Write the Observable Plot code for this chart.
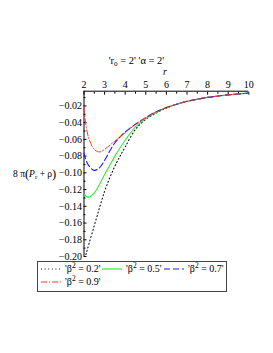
<!DOCTYPE html>
<html>
<head>
<meta charset="utf-8">
<script src="https://cdn.jsdelivr.net/npm/d3@7"></script>
<script src="https://cdn.jsdelivr.net/npm/@observablehq/plot@0.6"></script>
<style>
  html, body { margin: 0; padding: 0; background: #fff; }
  #wrap { position: relative; width: 273px; height: 353px; overflow: hidden; font-family: "Liberation Serif", "DejaVu Serif", serif; color: #000; }
  #chart { position: absolute; left: 0; top: 0; }
  #chart svg text { font-family: "Liberation Serif", serif !important; }
  .title { position: absolute; top: 55px; left: 0; width: 273px; text-align: center; font-size: 10.5px; }
  .xlab { position: absolute; left: 163px; top: 66px; font-size: 10px; font-style: italic; }
  .ylab { position: absolute; left: 13px; top: 167px; font-size: 9.5px; white-space: nowrap; }
  .ylab .par { font-size: 12.5px; vertical-align: -1px; }
  sub { font-size: 7px; vertical-align: -2px; line-height: 0; }
  sup { font-size: 7.5px; vertical-align: 4px; line-height: 0; }
  #legend { position: absolute; left: 37px; top: 261px; width: 188px; height: 29px; border: 1px solid #444; font-size: 10px; }
  .item { position: absolute; display: flex; align-items: center; white-space: nowrap; }
  .item svg { margin-right: 4px; }
</style>
</head>
<body>
<div id="wrap">
  <div id="chart"></div>
  <div class="title">'r<sub>0</sub> = 2' 'α = 2'</div>
  <div class="xlab">r</div>
  <div class="ylab">8 π<span class="par">(</span><i>P</i><sub>r</sub> + ρ<span class="par">)</span></div>
  <div id="legend"></div>
</div>
<script>
// ---- data ----
const r = [2, 2.1, 2.25, 2.5, 2.75, 3, 3.25, 3.5, 3.75, 4, 4.5, 5, 5.5, 6, 6.5, 7, 7.5, 8, 8.5, 9, 9.5, 10];
const beta02 = [-0.206, -0.197, -0.184, -0.163, -0.142, -0.122, -0.106, -0.092, -0.080, -0.069, -0.048, -0.036, -0.0285, -0.0225, -0.018, -0.0145, -0.012, -0.0098, -0.0082, -0.0068, -0.0057, -0.0047];
const beta05 = [-0.125, -0.128, -0.129, -0.124, -0.114, -0.102, -0.091, -0.080, -0.070, -0.061, -0.045, -0.035, -0.028, -0.022, -0.018, -0.0145, -0.012, -0.0098, -0.0082, -0.0068, -0.0057, -0.0047];
const beta07 = [-0.076, -0.085, -0.092, -0.097, -0.094, -0.085, -0.074, -0.064, -0.057, -0.051, -0.042, -0.034, -0.027, -0.022, -0.018, -0.0145, -0.012, -0.0098, -0.0082, -0.0068, -0.0057, -0.0047];
const beta09 = [-0.022, -0.044, -0.060, -0.072, -0.075, -0.072, -0.067, -0.062, -0.057, -0.052, -0.042, -0.034, -0.027, -0.022, -0.018, -0.0145, -0.012, -0.0098, -0.0082, -0.0068, -0.0057, -0.0047];
const seriesNames = ["'β² = 0.2'", "'β² = 0.5'", "'β² = 0.7'", "'β² = 0.9'"];
const betaLabels = ["0.2", "0.5", "0.7", "0.9"];
const xTicks = [2, 3, 4, 5, 6, 7, 8, 9, 10];
const xMinor = [2.5, 3.5, 4.5, 5.5, 6.5, 7.5, 8.5, 9.5];
const yTicks = [-0.02, -0.04, -0.06, -0.08, -0.10, -0.12, -0.14, -0.16, -0.18, -0.20];
const yMinor = [-0.01, -0.03, -0.05, -0.07, -0.09, -0.11, -0.13, -0.15, -0.17, -0.19];
const xDomain = [2, 10];
const yDomain = [-0.2, -0.0024];

const styles = [
  {stroke: "#111", strokeDasharray: "1,2.6", strokeWidth: 1.1},
  {stroke: "#33ee33", strokeDasharray: null, strokeWidth: 1.1},
  {stroke: "#1a1aff", strokeDasharray: "6,3", strokeWidth: 1.1},
  {stroke: "#ff3333", strokeDasharray: "6,2,1.2,2", strokeWidth: 1}
];
const allSeries = [beta02, beta05, beta07, beta09];
const rows = allSeries.flatMap((vals, i) => r.map((x, j) => ({series: seriesNames[i], r: x, v: vals[j]})));

const marks = [
  Plot.ruleY([yDomain[1]], {stroke: "#000", strokeWidth: 1}),
  Plot.ruleX([xDomain[0]], {stroke: "#000", strokeWidth: 1}),
  Plot.axisX(xTicks, {anchor: "top", tickSize: -3, tickPadding: 6, tickFormat: d => String(d), fontSize: 10}),
  Plot.axisX(xMinor, {anchor: "top", tickSize: -2, tickFormat: () => ""}),
  Plot.axisY(yTicks, {anchor: "left", tickSize: -3, tickPadding: 5, tickFormat: d3.format(".2f"), fontSize: 10}),
  Plot.axisY(yMinor, {anchor: "left", tickSize: -2, tickFormat: () => ""}),
  ...seriesNames.map((name, i) => Plot.line(rows.filter(d => d.series === name), {
    x: "r", y: "v", curve: "catmull-rom", clip: true, ...styles[i]
  }))
];

const chart = Plot.plot({
  width: 273, height: 258,
  marginLeft: 83.5, marginRight: 24.7, marginTop: 90.7, marginBottom: 2,
  style: {fontFamily: "Liberation Serif, serif", fontSize: "10px", background: "transparent", overflow: "visible"},
  x: {domain: xDomain, label: null},
  y: {domain: yDomain, label: null},
  marks
});
document.getElementById("chart").appendChild(chart);

// legend
const legend = document.getElementById("legend");
const pos = [[3, 5], [64, 5], [126, 5], [3, 18]];
seriesNames.forEach((name, i) => {
  const it = document.createElement("div");
  it.className = "item";
  it.style.left = pos[i][0] + "px";
  it.style.top = (pos[i][1] - 4) + "px";
  const s = styles[i];
  it.innerHTML = `<svg width="20" height="8"><line x1="0" x2="20" y1="4" y2="4" stroke="${s.stroke}" stroke-width="1.2" ${s.strokeDasharray ? `stroke-dasharray="${s.strokeDasharray}"` : ""}/></svg><span>'β<sup>2</sup> = ${betaLabels[i]}'</span>`;
  legend.appendChild(it);
});
</script>
</body>
</html>
